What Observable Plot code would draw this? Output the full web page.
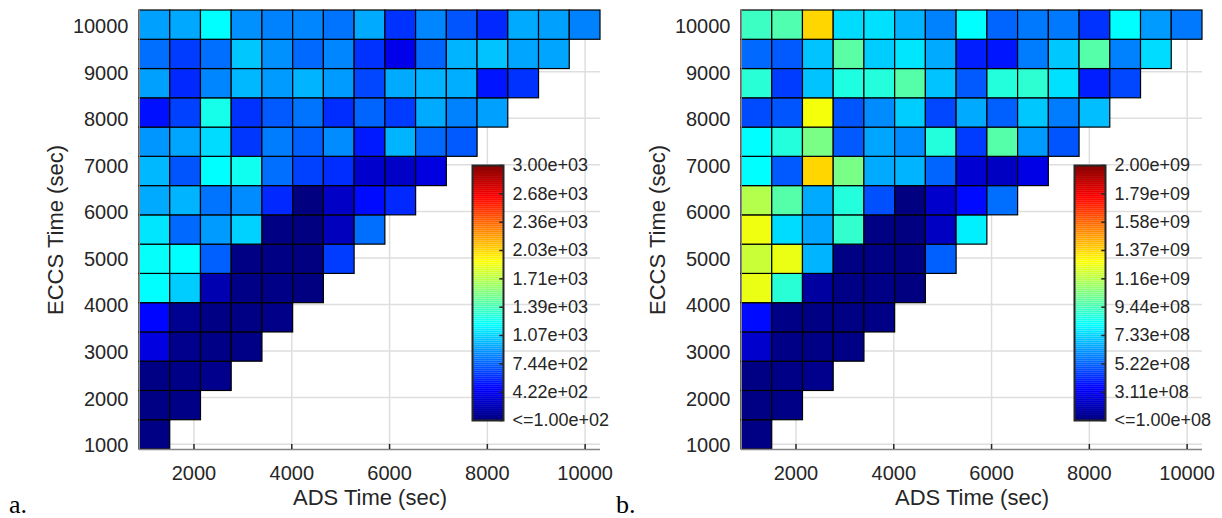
<!DOCTYPE html>
<html>
<head>
<meta charset="utf-8">
<script src="https://cdn.jsdelivr.net/npm/d3@7"></script>
<script src="https://cdn.jsdelivr.net/npm/@observablehq/plot@0.6"></script>
<style>
  body { margin: 0; background: #fff; }
  #wrap { position: relative; width: 1222px; height: 518px; overflow: hidden; background: #fff; }
  #wrap > svg, #wrap > .lab { position: absolute; }
  .lab { font-family: "Liberation Serif", "Times New Roman", serif; font-size: 26px; line-height: 26px; color: #000; }
</style>
</head>
<body>
<div id="wrap"></div>
<script>
// ---- data ----
const adsTimes  = [1200, 1829, 2457, 3086, 3714, 4343, 4971, 5600, 6229, 6857, 7486, 8114, 8743, 9371, 10000];
const eccsTimes = [1200, 1829, 2457, 3086, 3714, 4343, 4971, 5600, 6229, 6857, 7486, 8114, 8743, 9371, 10000];
const cellSize = 628.6;
const xLim = [885.7, 10314.3];
const yLim = [885.7, 10314.3];
const xTicks = [2000, 4000, 6000, 8000, 10000];
const yTicks = [1000, 2000, 3000, 4000, 5000, 6000, 7000, 8000, 9000, 10000];
const xLabel = "ADS Time (sec)";
const yLabel = "ECCS Time (sec)";

// panel a: rows bottom (ECCS=1200) to top (ECCS=10000); column index = ADS time
const valuesA = [
  [115],
  [115, 120],
  [115, 120, 135],
  [376, 135, 120, 120],
  [477, 149, 115, 115, 123],
  [1188, 1045, 236, 120, 120, 90],
  [1202, 1188, 732, 115, 115, 95, 634],
  [1115, 761, 903, 1060, 115, 95, 274, 776],
  [947, 973, 790, 860, 576, 90, 303, 492, 576],
  [987, 703, 1188, 1231, 776, 648, 590, 318, 303, 376],
  [889, 932, 1089, 619, 819, 732, 860, 535, 973, 761, 718],
  [506, 648, 1246, 605, 718, 790, 590, 747, 634, 947, 831, 918],
  [918, 576, 845, 987, 903, 973, 903, 663, 947, 973, 958, 520, 605],
  [776, 634, 776, 1031, 874, 761, 845, 605, 405, 747, 973, 1016, 932, 932],
  [918, 941, 1188, 874, 831, 845, 790, 947, 605, 845, 703, 576, 947, 918, 831]
];
// panel b
const valuesB = [
  [1.10e8],
  [1.10e8, 1.13e8],
  [1.10e8, 1.13e8, 1.23e8],
  [2.43e8, 1.13e8, 1.13e8, 1.13e8],
  [3.57e8, 1.13e8, 1.10e8, 1.10e8, 1.13e8],
  [12.50e8, 8.87e8, 1.59e8, 1.13e8, 1.13e8, 0.90e8],
  [11.85e8, 12.50e8, 6.72e8, 1.10e8, 1.10e8, 0.95e8, 5.14e8],
  [12.59e8, 7.48e8, 6.45e8, 9.06e8, 1.10e8, 0.95e8, 2.25e8, 7.84e8],
  [11.47e8, 9.70e8, 6.55e8, 8.77e8, 4.86e8, 0.90e8, 2.43e8, 3.57e8, 5.43e8],
  [8.13e8, 5.05e8, 13.64e8, 10.37e8, 6.55e8, 6.72e8, 5.24e8, 2.54e8, 2.25e8, 2.90e8],
  [8.13e8, 8.77e8, 10.37e8, 5.05e8, 6.45e8, 5.98e8, 8.77e8, 4.50e8, 9.70e8, 6.26e8, 4.95e8],
  [4.78e8, 4.95e8, 12.69e8, 4.95e8, 5.98e8, 7.19e8, 4.69e8, 6.55e8, 5.14e8, 7.10e8, 5.71e8, 6.91e8],
  [8.87e8, 4.50e8, 7.00e8, 8.68e8, 8.77e8, 9.70e8, 7.00e8, 5.05e8, 8.77e8, 8.96e8, 7.57e8, 3.93e8, 4.69e8],
  [5.33e8, 5.05e8, 7.00e8, 9.80e8, 7.19e8, 7.65e8, 6.55e8, 3.93e8, 3.76e8, 5.71e8, 7.10e8, 9.70e8, 5.79e8, 7.48e8],
  [9.25e8, 9.61e8, 13.64e8, 7.48e8, 7.57e8, 6.72e8, 5.79e8, 8.13e8, 5.24e8, 5.62e8, 5.62e8, 4.31e8, 8.13e8, 6.26e8, 5.62e8]
];

const limitsA = [100, 3000];
const limitsB = [1e8, 2e9];
const cbTicksA = [100, 422.2, 744.4, 1066.7, 1388.9, 1711.1, 2033.3, 2355.6, 2677.8, 3000];
const cbLabelsA = ["<=1.00e+02", "4.22e+02", "7.44e+02", "1.07e+03", "1.39e+03", "1.71e+03", "2.03e+03", "2.36e+03", "2.68e+03", "3.00e+03"];
const cbTicksB = [1e8, 3.111e8, 5.222e8, 7.333e8, 9.444e8, 11.556e8, 13.667e8, 15.778e8, 17.889e8, 20e8];
const cbLabelsB = ["<=1.00e+08", "3.11e+08", "5.22e+08", "7.33e+08", "9.44e+08", "1.16e+09", "1.37e+09", "1.58e+09", "1.79e+09", "2.00e+09"];
const panelLetters = ["a.", "b."];

// jet colormap stops
const jetStops = [0, 0.125, 0.375, 0.625, 0.875, 1];
const jetColors = ["#000080", "#0000ff", "#00ffff", "#ffff00", "#ff0000", "#800000"];

const FONT = "'Liberation Sans', Arial, Helvetica, sans-serif";
const INK = "#262626";

function colorScale([lo, hi]) {
  return {type: "linear", domain: jetStops.map(t => lo + t * (hi - lo)), range: jetColors, interpolate: "rgb", clamp: true};
}

function panel(values, limits) {
  const half = cellSize / 2;
  const cells = [];
  values.forEach((row, r) => row.forEach((v, c) => cells.push({ads: adsTimes[c], eccs: eccsTimes[r], v})));
  return Plot.plot({
    width: 611, height: 518,
    marginLeft: 139, marginRight: 11, marginTop: 10, marginBottom: 69,
    style: {fontFamily: FONT, fontSize: "20px", color: INK, background: "transparent", overflow: "visible"},
    x: {domain: xLim},
    y: {domain: yLim},
    color: colorScale(limits),
    marks: [
      Plot.gridX(xTicks, {stroke: "#dedede", strokeOpacity: 1, strokeWidth: 1.5}),
      Plot.gridY(yTicks, {stroke: "#dedede", strokeOpacity: 1, strokeWidth: 1.5}),
      Plot.rect(cells, {
        x1: d => d.ads - half, x2: d => d.ads + half,
        y1: d => d.eccs - half, y2: d => d.eccs + half,
        fill: "v", stroke: "#000", strokeWidth: 1.2
      }),
      Plot.ruleY([yLim[0]], {stroke: "#858585", strokeWidth: 1.5}),
      Plot.ruleX([xLim[0]], {stroke: "#858585", strokeWidth: 1}),
      Plot.axisX(xTicks, {tickSize: -5, tickPadding: 21, tickFormat: d => String(d), label: null, fontSize: 20, stroke: INK, strokeWidth: 1.5, fill: INK}),
      Plot.axisY(yTicks, {tickSize: 0, tickPadding: 11, dy: 1.5, tickFormat: d => String(d), label: null, fontSize: 20, fill: INK}),
      Plot.text([xLabel], {text: d => d, frameAnchor: "bottom", dy: 48, lineAnchor: "middle", textAnchor: "middle", fontSize: 22, fill: INK}),
      Plot.text([yLabel], {text: d => d, frameAnchor: "left", dx: -84, rotate: -90, lineAnchor: "middle", textAnchor: "middle", fontSize: 22, fill: INK})
    ]
  });
}

function colorbar(limits, ticks, labels) {
  const [lo, hi] = limits;
  const n = 128;
  const slices = d3.range(n).map(i => ({y1: lo + (hi - lo) * i / n, y2: lo + (hi - lo) * (i + 1) / n, v: lo + (hi - lo) * (i + 0.5) / n}));
  return Plot.plot({
    width: 162, height: 285,
    marginLeft: 12, marginRight: 119, marginTop: 15, marginBottom: 15,
    style: {fontFamily: FONT, fontSize: "18px", color: INK, background: "transparent", overflow: "visible"},
    x: {domain: [0, 1], axis: null},
    y: {domain: [lo, hi], axis: null},
    color: colorScale(limits),
    marks: [
      Plot.rect(slices, {x1: 0, x2: 1, y1: "y1", y2: "y2", fill: "v", inset: 0}),
      Plot.ruleY(ticks, {y: d => d, x1: 0.88, x2: 1, stroke: INK, strokeWidth: 1.5}),
      Plot.frame({stroke: INK, strokeWidth: 2}),
      Plot.text(ticks, {x: 1, y: d => d, text: (d, i) => labels[i], dx: 9, textAnchor: "start", fontSize: 18, fill: INK})
    ]
  });
}

const wrap = document.getElementById("wrap");
function place(el, left, top) { el.style.left = left + "px"; el.style.top = top + "px"; wrap.appendChild(el); }

place(panel(valuesA, limitsA), 0, 0);
place(colorbar(limitsA, cbTicksA, cbLabelsA), 460, 150);
place(panel(valuesB, limitsB), 602, 0);
place(colorbar(limitsB, cbTicksB, cbLabelsB), 1062, 150);

[[panelLetters[0], 9], [panelLetters[1], 616]].forEach(([t, x]) => {
  const d = document.createElement("div");
  d.className = "lab";
  d.textContent = t;
  place(d, x, 492);
});
</script>
</body>
</html>
